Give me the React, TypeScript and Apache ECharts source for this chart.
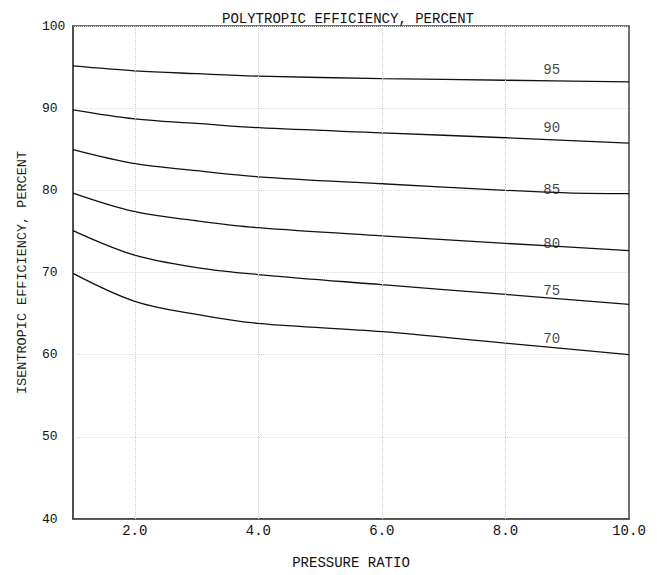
import React, { useEffect, useRef } from "react";
import * as echarts from "echarts";

const xs95 = [1, 2, 3, 4, 6, 8, 10];
const eff95 = [95.15, 94.55, 94.2, 93.9, 93.6, 93.4, 93.2];
const xs90 = [1, 2, 3, 4, 6, 8, 10];
const eff90 = [89.8, 88.7, 88.15, 87.62, 87.0, 86.4, 85.75];
const xs85 = [1, 2, 3, 4, 6, 8, 9, 10];
const eff85 = [84.95, 83.25, 82.4, 81.65, 80.8, 80.0, 79.7, 79.6];
const xs80 = [1, 2, 3, 4, 6, 8, 10];
const eff80 = [79.66, 77.4, 76.3, 75.45, 74.45, 73.55, 72.65];
const xs75 = [1, 2, 3, 4, 6, 8, 10];
const eff75 = [75.1, 72.1, 70.6, 69.75, 68.52, 67.33, 66.12];
const xs70 = [1, 2, 3, 4, 6, 8, 10];
const eff70 = [69.9, 66.5, 64.9, 63.8, 62.8, 61.4, 60.0];

const curveNames = ["95", "90", "85", "80", "75", "70"];
const curveXs = [xs95, xs90, xs85, xs80, xs75, xs70];
const curveYs = [eff95, eff90, eff85, eff80, eff75, eff70];

const labelX = [8.75, 8.75, 8.75, 8.75, 8.75, 8.75];
const labelY = [94.6, 87.55, 80.05, 73.45, 67.72, 61.9];

const gridX = [2, 4, 6, 8];

const FONT = "'Liberation Mono', 'DejaVu Sans Mono', monospace";

export default function App() {
  const ref = useRef<HTMLDivElement>(null);
  useEffect(() => {
    if (!ref.current) return;
    const chart = echarts.init(ref.current, null, { renderer: "svg" });
    const curveSeries = curveNames.map((n, i) => ({
      name: n,
      type: "line",
      smooth: 0.35,
      symbol: "none",
      silent: true,
      lineStyle: { color: "#111", width: 1.3 },
      data: curveXs[i].map((x, j) => [x, curveYs[i][j]]),
      z: 3,
    }));
    chart.setOption({
      animation: false,
      backgroundColor: "#fff",
      textStyle: { fontFamily: FONT },
      title: {
        text: "POLYTROPIC EFFICIENCY, PERCENT",
        left: 343,
        top: 7,
        textAlign: "center",
        textStyle: {
          fontFamily: FONT,
          fontSize: 14,
          fontWeight: "normal",
          color: "#111",
        },
      },
      grid: {
        left: 73,
        right: 28,
        top: 26,
        bottom: 50,
        show: true,
        borderColor: "#444",
        borderWidth: 1.5,
        backgroundColor: "transparent",
      },
      xAxis: {
        type: "value",
        min: 1,
        max: 10,
        interval: 1,
        name: "PRESSURE RATIO",
        nameLocation: "middle",
        nameGap: 37,
        nameTextStyle: { fontFamily: FONT, fontSize: 14, color: "#111" },
        axisLine: { show: true, lineStyle: { color: "#444", width: 1.5 } },
        axisTick: { show: false },
        splitLine: { show: false },
        axisLabel: {
          fontFamily: FONT,
          fontSize: 14,
          color: "#111",
          margin: 5,
          formatter: (v: number) => (v % 2 === 0 ? v.toFixed(1) : ""),
        },
      },
      yAxis: {
        type: "value",
        min: 40,
        max: 100,
        interval: 10,
        name: "ISENTROPIC EFFICIENCY, PERCENT",
        nameLocation: "middle",
        nameGap: 44,
        nameTextStyle: { fontFamily: FONT, fontSize: 13.5, color: "#222" },
        axisLine: { show: true, lineStyle: { color: "#444", width: 1.5 } },
        axisTick: { show: false },
        splitLine: {
          show: true,
          lineStyle: { color: "#dcdcdc", type: "dotted", width: 1 },
        },
        axisLabel: {
          fontFamily: FONT,
          fontSize: 13,
          color: "#111",
          margin: 31,
          align: "left",
        },
      },
      series: [
        ...curveSeries,
        {
          name: "grid",
          type: "line",
          data: [],
          silent: true,
          markLine: {
            silent: true,
            symbol: "none",
            label: { show: false },
            lineStyle: { color: "#c8c8c8", type: "dotted", width: 1 },
            data: gridX.map((x) => ({ xAxis: x })),
          },
        },
        {
          name: "labels",
          type: "scatter",
          symbolSize: 0,
          silent: true,
          data: labelX.map((x, i) => ({
            value: [x, labelY[i]],
            name: curveNames[i],
          })),
          label: {
            show: true,
            position: "inside",
            formatter: (p: any) => p.name,
            fontFamily: FONT,
            fontSize: 14,
            color: "#111",
          },
          z: 4,
        },
      ],
    });
    return () => chart.dispose();
  }, []);
  return <div ref={ref} style={{ width: 657, height: 575, marginLeft: -8, marginTop: -8 }} />;
}
